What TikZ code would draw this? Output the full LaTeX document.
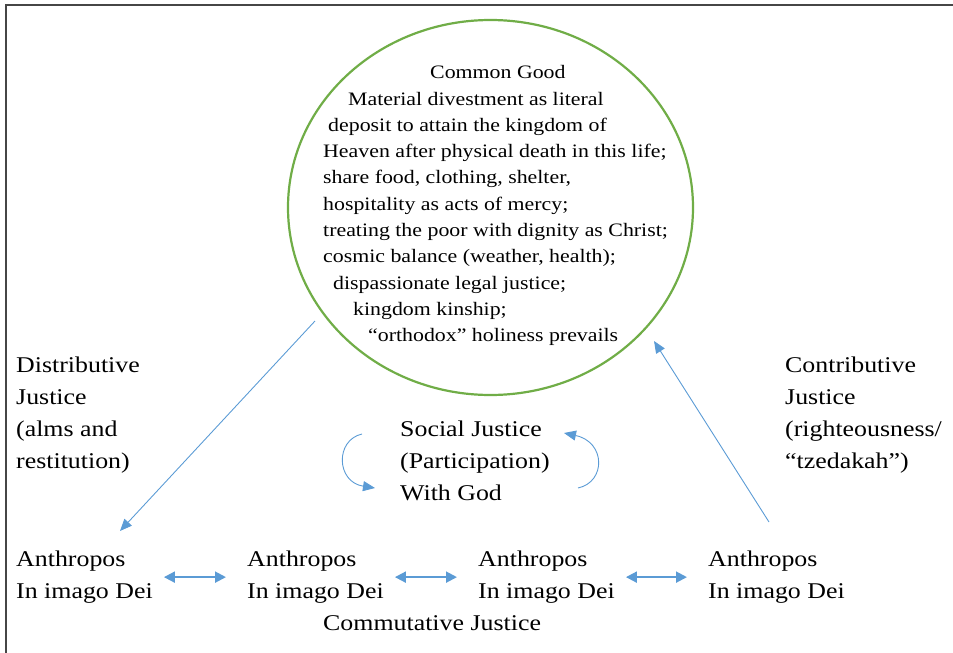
\documentclass[tikz,border=0pt]{standalone}
\usepackage{fontspec}
\setmainfont[FakeStretch=1.15]{Liberation Serif}
\usetikzlibrary{positioning, arrows.meta, shapes.geometric}

\definecolor{arrowblue}{RGB}{91,155,213}
\definecolor{goodgreen}{RGB}{112,173,71}
\definecolor{framegray}{RGB}{70,70,70}

\tikzset{
  bigtext/.style={anchor=base west, align=left, inner sep=0pt, font=\fontsize{22.5}{32}\selectfont},
  goodtext/.style={anchor=base west, align=left, inner sep=0pt, font=\fontsize{19}{26.3}\selectfont},
  link/.style={arrowblue, line width=0.9pt, -{Triangle[length=12pt,width=10pt]}},
  twoway/.style={arrowblue, line width=2pt, {Triangle[length=11pt,width=11pt]}-{Triangle[length=11pt,width=11pt]}, shorten <=11pt, shorten >=21pt}
}

\begin{document}
\begin{tikzpicture}[x=1pt,y=-1pt]
  \useasboundingbox (0,0) rectangle (953,653);

  %枠
  \draw[framegray, line width=1.5pt] (6,653) -- (6,5) -- (953,5);

  %円 (文字は最後の行の基線で置く)
  \node[ellipse, draw=goodgreen, line width=2.2pt, minimum width=405, minimum height=375] (good) at (490.5,207.5) {};
  \node[goodtext] (goodtxt) at (323,341.7) {\hspace*{107pt}Common Good\\
    \hspace*{25pt}Material divestment as literal\\
    \hspace*{5pt}deposit to attain the kingdom of\\
    Heaven after physical death in this life;\\
    share food, clothing, shelter,\\
    hospitality as acts of mercy;\\
    treating the poor with dignity as Christ;\\
    cosmic balance (weather, health);\\
    \hspace*{10pt}dispassionate legal justice;\\
    \hspace*{30pt}kingdom kinship;\\
    \hspace*{45pt}“orthodox” holiness prevails};

  %正義
  \node[bigtext] (distrib) at (16,468.5) {Distributive\\Justice\\(alms and\\restitution)};
  \node[bigtext] (contrib) at (785,468.5) {Contributive\\Justice\\(righteousness/\\“tzedakah”)};
  \node[bigtext] (social) at (400,500) {Social Justice\\(Participation)\\With God};
  \node[bigtext] (commut) at (323,630) {Commutative Justice};

  %人
  \node[bigtext] (a1) at (16,598.5) {Anthropos\\In imago Dei};
  \node[bigtext] (a2) at (247,598.5) {Anthropos\\In imago Dei};
  \node[bigtext] (a3) at (478,598.5) {Anthropos\\In imago Dei};
  \node[bigtext] (a4) at (708,598.5) {Anthropos\\In imago Dei};

  %矢印
  \coordinate (dstart) at (315,321);
  \coordinate (dend) at (120,531);
  \coordinate (cstart) at (769,522);
  \coordinate (cend) at (654,341);
  \draw[link] (dstart) -- (dend);
  \draw[link] (cstart) -- (cend);

  \coordinate (lstart) at (362,434);
  \coordinate (lend) at (375,488);
  \coordinate (rstart) at (578,488);
  \coordinate (rend) at (564,433);
  \draw[link] (lstart) .. controls (335,440) and (336,482) .. (lend);
  \draw[link] (rstart) .. controls (606,482) and (606,442) .. (rend);

  \draw[twoway] (a1.east) -- (a2.west);
  \draw[twoway] (a2.east) -- (a3.west);
  \draw[twoway] (a3.east) -- (a4.west);
\end{tikzpicture}
\end{document}
